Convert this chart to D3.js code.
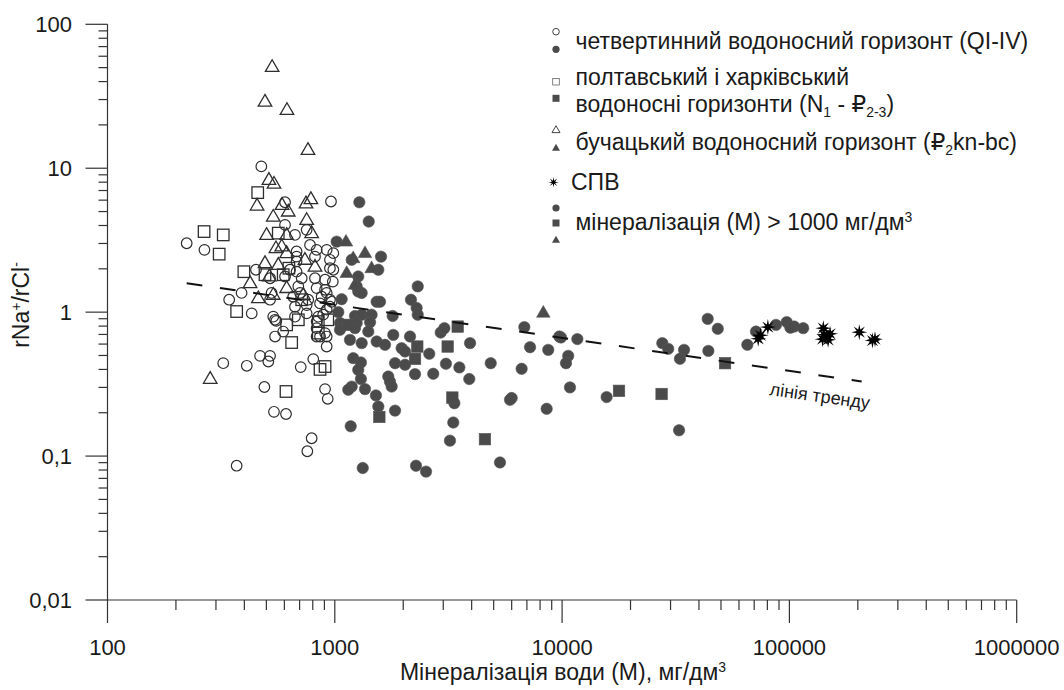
<!DOCTYPE html>
<html><head><meta charset="utf-8">
<script src="https://cdn.jsdelivr.net/npm/d3@7"></script>
<style>
body{margin:0;background:#fff}
svg{display:block}
text{font-family:"Liberation Sans",Arial,"DejaVu Sans",sans-serif;fill:#1a1a1a}
</style>
</head><body>
<svg id="c" width="1064" height="690"></svg>
<script>
// ---------- data: [mineralisation M (mg/dm3), rNa+/rCl-] ----------
const quaternaryOpen = [
 [475,10.3],[604,5.8],[962,5.87],[223,3.01],[267,2.71],[604,4.04],[668,3.44],[752,3.73],[778,2.93],
 [679,2.64],[832,2.71],[921,2.71],[818,2.43],[679,2.25],[635,1.97],[450,1.97],[715,1.72],[818,1.72],
 [906,1.68],[985,1.97],[389,1.36],[527,1.36],[519,1.22],[656,1.28],[703,1.36],[668,1.09],[752,1.12],
 [875,1.28],[969,1.18],[343,1.22],[431,0.98],[536,0.93],[668,0.93],[846,0.93],[679,2.43],[952,2.31],
 [679,1.91],[952,2.02],[519,1.72],[604,1.77],[980,1.63],[691,1.51],[832,1.47],[921,1.36],[952,1.22],
 [764,1.22],[861,1.15],[546,0.885],[593,0.733],[752,0.98],[889,0.96],[952,1.09],[546,0.677],[832,0.774],
 [861,0.677],[553,0.87],[832,0.86],[832,0.677],[921,0.677],[921,0.577],[323,0.442],[410,0.424],[469,0.497],
 [519,0.497],[510,0.454],[708,0.415],[804,0.472],[490,0.302],[906,0.292],[931,0.25],[540,0.203],[610,0.196],
 [791,0.133],[757,0.108],[370,0.0857],[985,2.57],[906,1.43],[921,1.04],[906,0.715]
];
const quaternaryFilled = [
 [1282,5.8],[1410,4.26],[1019,3.09],[1597,2.43],[1187,2.31],[1554,1.97],[1268,1.77],[1268,1.39],[1313,1.36],
 [1072,1.23],[1528,1.18],[1581,1.18],[2317,1.51],[2163,1.22],[2291,1.07],[2317,0.96],[1036,1.0],[1227,0.94],
 [1313,0.96],[1452,0.96],[1797,0.94],[1054,0.84],[1248,0.84],[1429,0.85],[1054,0.754],[1227,0.774],[1404,0.733],
 [1166,0.642],[1313,0.609],[1528,0.625],[1663,0.593],[1808,0.695],[2143,0.677],[1968,0.562],[2037,0.533],
 [2604,0.514],[2924,0.722],[3034,0.774],[3936,0.609],[4853,0.442],[6637,0.404],[7228,0.571],[6821,0.787],
 [8690,0.547],[9720,0.677],[1205,0.479],[1303,0.447],[1268,0.397],[1303,0.343],[1187,0.304],[1146,0.289],
 [1358,0.292],[1719,0.357],[1749,0.329],[1779,0.304],[1841,0.442],[2037,0.431],[2254,0.371],[2711,0.373],
 [3083,0.438],[3532,0.413],[3905,0.343],[1517,0.264],[1554,0.221],[1841,0.207],[1175,0.161],[3357,0.233],
 [3321,0.171],[3211,0.128],[5999,0.253],[5900,0.246],[8551,0.213],[5330,0.0903],[1327,0.0826],[2277,0.0857],
 [2520,0.078],[1248,1.51],[9890,0.667],[11670,0.65],[10640,0.497],[10400,0.442],[10830,0.3],[15700,0.257],
 [27600,0.609],[29300,0.556],[34400,0.547],[33000,0.474],[32700,0.151],[43700,0.898],[48400,0.766],
 [44000,0.538],[65300,0.593],[71300,0.733],[87300,0.816],[97300,0.853],[105000,0.794],[115000,0.774],[101000,0.78]
];
const poltavaOpen = [
 [458,6.77],[266,3.63],[323,3.44],[310,2.53],[398,1.91],[493,1.82],[564,3.54],[628,2.02],[593,1.82],
 [715,1.22],[370,1.01],[691,0.885],[614,0.816],[846,0.86],[931,0.885],[846,0.715],[646,0.615],[861,0.4],
 [906,0.419],[610,0.281]
];
const poltavaFilled = [
 [1146,0.816],[3473,0.794],[2306,0.577],[2254,0.474],[3138,0.577],[3289,0.255],[1570,0.187],[4577,0.131],
 [52100,0.442],[17800,0.284],[27400,0.27]
];
const buchakOpen = [
 [530,50.5],[493,29],[616,25.4],[762,13.4],[513,8.3],[540,7.8],[455,5.5],[586,5.56],[785,6.1],[747,5.7],
 [624,5.0],[536,4.6],[752,4.37],[501,3.44],[614,3.44],[791,3.54],[551,2.78],[584,2.86],[614,2.57],[493,2.19],
 [564,2.13],[739,2.31],[818,2.07],[424,1.59],[515,1.77],[614,1.47],[461,1.25],[727,1.32],[536,1.32],[283,0.344]
];
const buchakFilled = [
 [1120,3.09],[1358,2.57],[1205,2.37],[1452,2.02],[1128,1.87],[1227,1.55],[8268,0.99]
];
const spv = [
 [80400,0.787],[72900,0.653],[74600,0.69],[141000,0.774],[142000,0.696],[146000,0.677],[151000,0.707],
 [140000,0.649],[148000,0.642],[203000,0.726],[232000,0.635],[238000,0.649]
];
const trendM = [223, 208000];
const trendR = [1.59, 0.33];
const xTickLabels = ["100","1000","10000","100000","1000000"];
const yTickLabels = ["0,01","0,1","1","10","100"];

// ---------- scales ----------
const svg = d3.select('#c');
const x = d3.scaleLog().domain([100,1e6]).range([107.5,1016.7]);
const y = d3.scaleLog().domain([0.01,100]).range([600,24.3]);
const AX = '#333', FILL = '#4b4b4b', OPEN = '#2e2e2e';

// ---------- axes ----------
const ax = svg.append('g').attr('stroke',AX).attr('stroke-width',1.2);
ax.append('line').attr('x1',x(100)).attr('x2',x(1e6)).attr('y1',y(0.01)).attr('y2',y(0.01));
ax.append('line').attr('x1',x(100)).attr('x2',x(100)).attr('y1',y(100)).attr('y2',y(0.01));
const xt = [], yt = [];
for (let e=2;e<=6;e++) for (let m=1;m<=9;m++){ const v=m*Math.pow(10,e); if (v<=1e6) xt.push({v,major:m===1}); }
for (let e=-2;e<=2;e++) for (let m=1;m<=9;m++){ const v=m*Math.pow(10,e); if (v<=100.0001) yt.push({v,major:m===1}); }
xt.forEach(t=>ax.append('line').attr('x1',x(t.v)).attr('x2',x(t.v)).attr('y1',y(0.01)).attr('y2',y(0.01)+(t.major?23:10)));
yt.forEach(t=>ax.append('line').attr('y1',y(t.v)).attr('y2',y(t.v)).attr('x1',x(100)).attr('x2',x(100)-(t.major?22:9)));
xTickLabels.forEach((s,i)=>svg.append('text').attr('x',x(Math.pow(10,i+2))).attr('y',654.5)
  .attr('text-anchor','middle').attr('font-size',22).text(s));
yTickLabels.forEach((s,i)=>svg.append('text').attr('x',72).attr('y',y(Math.pow(10,i-2))+7.8)
  .attr('text-anchor','end').attr('font-size',22).text(s));

// axis titles
svg.append('text').attr('x',563).attr('y',680).attr('text-anchor','middle').attr('font-size',23)
  .html('Мінералізація води (М), мг/дм<tspan dy="-8" font-size="14">3</tspan>');
const yl = svg.append('text').attr('transform','translate(28.5,305) rotate(-90)').attr('text-anchor','middle').attr('font-size',23);
yl.append('tspan').text('rNa');
yl.append('tspan').attr('dy',-8).attr('font-size',14).text('+');
yl.append('tspan').attr('dy',8).text('/rCl');
yl.append('tspan').attr('dy',-8).attr('font-size',14).text('-');

// ---------- marks ----------
function starPath(R,r,n){ let p=[]; for(let i=0;i<2*n;i++){ const a=Math.PI*i/n - Math.PI/2; const rr=i%2?r:R; p.push([rr*Math.cos(a),rr*Math.sin(a)]);} return 'M'+p.map(d=>d.join(',')).join('L')+'Z'; }
const tri = s => { const h=s*0.866; return `M0,${-h*0.62}L${s/2},${h*0.38}L${-s/2},${h*0.38}Z`; };
const plot = svg.append('g');
function circles(data,r,filled){ plot.append('g').selectAll('circle').data(data).join('circle')
  .attr('cx',d=>x(d[0])).attr('cy',d=>y(d[1])).attr('r',r)
  .attr('fill',filled?FILL:'none').attr('stroke',filled?'#555':OPEN).attr('stroke-width',filled?0.6:1.2); }
function squares(data,s,filled){ plot.append('g').selectAll('rect').data(data).join('rect')
  .attr('x',d=>x(d[0])-s/2).attr('y',d=>y(d[1])-s/2).attr('width',s).attr('height',s)
  .attr('fill',filled?FILL:'none').attr('stroke',filled?'#555':OPEN).attr('stroke-width',filled?0.6:1.3); }
function triangles(data,s,filled){ plot.append('g').selectAll('path').data(data).join('path')
  .attr('transform',d=>`translate(${x(d[0])},${y(d[1])})`).attr('d',tri(s))
  .attr('fill',filled?FILL:'none').attr('stroke',filled?'#555':OPEN).attr('stroke-width',filled?0.6:1.3).attr('stroke-linejoin','miter'); }
circles(quaternaryOpen,5.3,false);
squares(poltavaOpen,11.5,false);
triangles(buchakOpen,13.5,false);
circles(quaternaryFilled,5.7,true);
squares(poltavaFilled,11.5,true);
triangles(buchakFilled,13.5,true);
plot.append('g').selectAll('path').data(spv).join('path')
  .attr('transform',d=>`translate(${x(d[0])},${y(d[1])})`).attr('d',starPath(8,2.8,8)).attr('fill','#000');

// trend line
svg.append('line').attr('x1',x(trendM[0])).attr('y1',y(trendR[0])).attr('x2',x(trendM[1])).attr('y2',y(trendR[1]))
  .attr('stroke','#111').attr('stroke-width',2).attr('stroke-dasharray','15.8,17.8');
svg.append('text').attr('transform','translate(819,402) rotate(8.1)').attr('text-anchor','middle').attr('font-size',18).text('лінія тренду');

// ---------- legend ----------
const lg = svg.append('g');
const LX = 556;
lg.append('circle').attr('cx',LX).attr('cy',31.7).attr('r',3.3).attr('fill','none').attr('stroke',OPEN).attr('stroke-width',0.9);
lg.append('circle').attr('cx',LX).attr('cy',49.3).attr('r',3.6).attr('fill',FILL);
lg.append('rect').attr('x',LX-3.3).attr('y',81.7-3.3).attr('width',6.6).attr('height',6.6).attr('fill','none').attr('stroke','#666').attr('stroke-width',0.8);
lg.append('rect').attr('x',LX-3.5).attr('y',98.3-3.5).attr('width',7).attr('height',7).attr('fill',FILL);
lg.append('path').attr('transform',`translate(${LX},130)`).attr('d',tri(8)).attr('fill','none').attr('stroke',OPEN).attr('stroke-width',0.9);
lg.append('path').attr('transform',`translate(${LX},148)`).attr('d',tri(8)).attr('fill',FILL);
lg.append('path').attr('transform',`translate(${LX-2.5},182.3)`).attr('d',starPath(5.2,1.7,8)).attr('fill','#000');
lg.append('circle').attr('cx',LX).attr('cy',208).attr('r',3.6).attr('fill',FILL);
lg.append('rect').attr('x',LX-3.5).attr('y',223-3.5).attr('width',7).attr('height',7).attr('fill',FILL);
lg.append('path').attr('transform',`translate(${LX},240)`).attr('d',tri(8)).attr('fill',FILL);

const LFS = 23, TX = 575.5;
function ltext(yc, html, xx){ lg.append('text').attr('x',xx||TX).attr('y',yc+8).attr('font-size',LFS).html(html); }
ltext(40.7,'четвертинний водоносний горизонт (QI-IV)');
ltext(77.3,'полтавський і харківський');
ltext(103.6,'водоносні горизонти (N<tspan dy="5" font-size="14">1</tspan><tspan dy="-5"> - ₽</tspan><tspan dy="5" font-size="14">2-3</tspan><tspan dy="-5">)</tspan>');
ltext(141.7,'бучацький водоносний горизонт (₽<tspan dy="5" font-size="14">2</tspan><tspan dy="-5">kn-bc)</tspan>');
ltext(181.7,'СПВ',571);
ltext(222,'мінералізація (М) &gt; 1000 мг/дм<tspan dy="-8" font-size="14">3</tspan>');
</script>
</body></html>
